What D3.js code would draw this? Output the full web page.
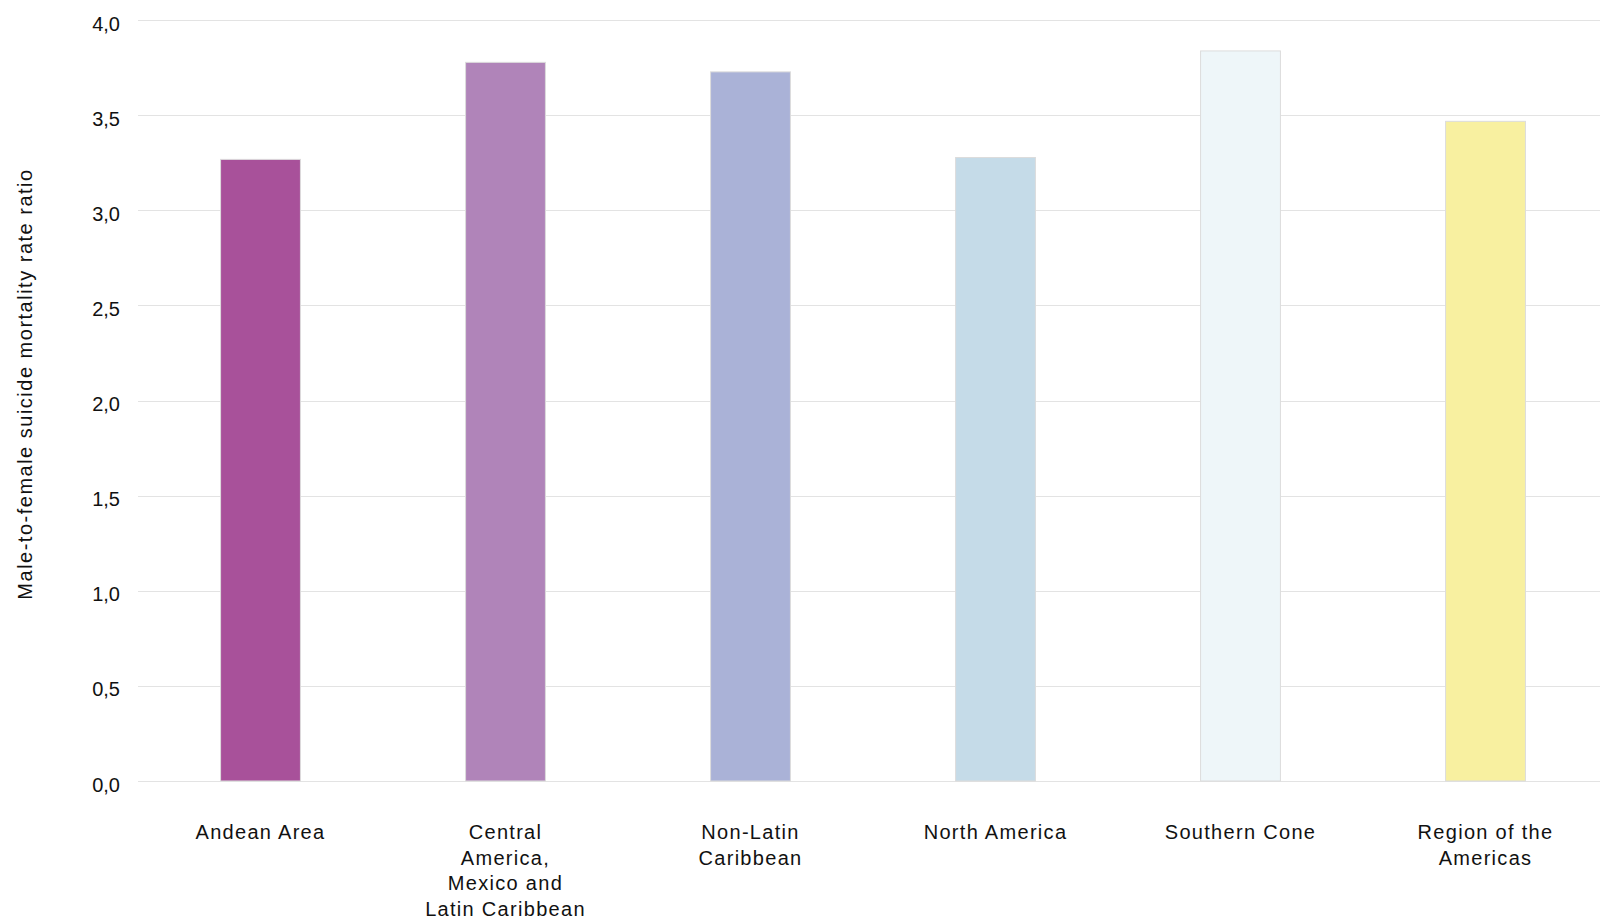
<!DOCTYPE html>
<html>
<head>
<meta charset="utf-8">
<script src="https://cdn.jsdelivr.net/npm/d3@7"></script>
<style>
  html, body { margin: 0; padding: 0; background: #fff; }
  svg { display: block; }
  text { font-family: "Liberation Sans", Arial, sans-serif; fill: #111; }
</style>
</head>
<body>
<svg id="chart" width="1600" height="923"></svg>
<script>
const categories = ["Andean Area", "Central America, Mexico and Latin Caribbean", "Non-Latin Caribbean", "North America", "Southern Cone", "Region of the Americas"];
const categoryLines = [["Andean Area"], ["Central", "America,", "Mexico and", "Latin Caribbean"], ["Non-Latin", "Caribbean"], ["North America"], ["Southern Cone"], ["Region of the", "Americas"]];
const values = [3.27, 3.78, 3.73, 3.28, 3.84, 3.47];
const colors = ["#a8519a", "#b084b9", "#aab2d7", "#c5dbe8", "#eef6f9", "#f8f0a0"];
const yTicks = [0, 0.5, 1, 1.5, 2, 2.5, 3, 3.5, 4];
const yTitle = "Male-to-female suicide mortality rate ratio";

(function () {
const svg = d3.select("#chart");
const mLeft = 138, mRight = 1608, mTop = 20, mBottom = 781;

const x = d3.scaleBand().domain(categories).range([mLeft, mRight]).paddingInner(0.67).paddingOuter(0.335);
const y = d3.scaleLinear().domain([0, 4]).range([mBottom, mTop]);

// gridlines
svg.append("g").selectAll("line").data(yTicks).join("line")
  .attr("x1", mLeft).attr("x2", 1600)
  .attr("y1", d => Math.round(y(d)) + 0.5).attr("y2", d => Math.round(y(d)) + 0.5)
  .attr("stroke", "#e3e3e3").attr("stroke-width", 1.2);

// y axis labels
const fmt = d => d3.format(".1f")(d).replace(".", ",");
const yAxis = svg.append("g").attr("transform", `translate(${mLeft},0)`)
  .call(d3.axisLeft(y).tickValues(yTicks).tickFormat(fmt).tickSize(0).tickPadding(18));
yAxis.select(".domain").remove();
yAxis.selectAll("text")
  .attr("dy", "0.5em")
  .style("font-size", "20px").style("font-family", "Liberation Sans, Arial, sans-serif").attr("fill", "#111");

// bars
svg.append("g").selectAll("rect").data(values).join("rect")
  .attr("x", (d, i) => x(categories[i]) + 0.5)
  .attr("width", x.bandwidth() - 1)
  .attr("y", d => y(d) + 0.5)
  .attr("height", d => y(0) - y(d) - 0.5)
  .attr("fill", (d, i) => colors[i])
  .attr("stroke", "#dcdcdc").attr("stroke-width", 1);

// category labels
const lab = svg.append("g").selectAll("text").data(categories).join("text")
  .attr("text-anchor", "middle")
  .style("font-size", "20px")
  .style("letter-spacing", "1.3px")
  .attr("transform", d => `translate(${x(d) + x.bandwidth() / 2},839)`);
lab.each(function(d, i) {
  d3.select(this).selectAll("tspan").data(categoryLines[i]).join("tspan")
    .attr("x", 0).attr("y", (t, j) => j * 25.5).text(t => t);
});

// y title
svg.append("text")
  .attr("transform", "translate(32,384) rotate(-90)")
  .attr("text-anchor", "middle")
  .style("font-size", "20px")
  .style("letter-spacing", "1.5px")
  .text(yTitle);
})();
</script>
</body>
</html>
